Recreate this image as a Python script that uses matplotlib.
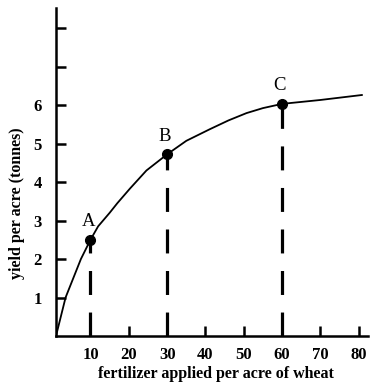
import matplotlib
matplotlib.use("Agg")
import matplotlib.pyplot as plt

plt.rcParams['font.family'] = ['Liberation Serif', 'DejaVu Serif']

# curve
fert = [1, 3.5, 7.5, 10, 12, 15, 17, 20.3, 24.6, 30, 35, 41.1, 46, 50.7, 55, 60, 69.9, 80.8]
yld = [0, 1.0, 2.0, 2.5, 2.85, 3.2, 3.45, 3.83, 4.3, 4.72, 5.07, 5.37, 5.6, 5.79, 5.92, 6.03, 6.13, 6.26]

# labelled points
pt_names = ['A', 'B', 'C']
pt_x = [10, 30, 60]
pt_y = [2.5, 4.72, 6.03]

xticks = [10, 20, 30, 40, 50, 60, 70, 80]
yticks = [1, 2, 3, 4, 5, 6, 7, 8]
ytick_labels = ['1', '2', '3', '4', '5', '6', '', '']

fig = plt.figure(figsize=(3.74, 3.9), dpi=100)
ax = fig.add_axes([56/374, 54/390, 312/374, 328/390])

ax.plot(fert, yld, color='black', lw=1.3)
ax.plot(pt_x, pt_y, 'o', color='black', ms=7, zorder=5)
for x, y in zip(pt_x, pt_y):
    ax.plot([x, x], [0, y], color='black', lw=2.3, dashes=(7.5, 5.5))
for name, x, y in zip(pt_names, pt_x, pt_y):
    ax.text(x - 0.6, y + 0.47, name, ha='center', va='center', fontsize=13.5)

ax.set_xlim(1, 82.4)
ax.set_ylim(0, 8.52)
ax.set_xticks(xticks)
ax.set_yticks(yticks)
ax.set_yticklabels(ytick_labels)
ax.tick_params(direction='in', length=7, width=1.8, labelsize=12)
ax.tick_params(axis='x', pad=8)
ax.tick_params(axis='y', pad=10)
for lab in ax.get_xticklabels() + ax.get_yticklabels():
    lab.set_fontweight('bold')

ax.spines['top'].set_visible(False)
ax.spines['right'].set_visible(False)
ax.spines['left'].set_linewidth(1.8)
ax.spines['bottom'].set_linewidth(1.8)

fig.text(216/374, 1 - 374/390, 'fertilizer applied per acre of wheat', ha='center', va='center',
         fontsize=11.5, fontweight='bold')
fig.text(17/374, 1 - 203/390, 'yield per acre (tonnes)', ha='center', va='center',
         rotation=90, fontsize=11.5, fontweight='bold')

fig.savefig('out.png', dpi=100)
